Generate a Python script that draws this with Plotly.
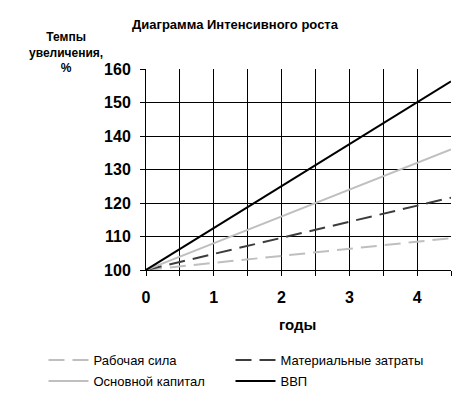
import plotly.graph_objects as go

years = [0, 1, 2, 3, 4, 4.5]
labor = [100, 102.1, 104.2, 106.3, 108.4, 109.5]
materials = [100, 104.8, 109.6, 114.4, 119.2, 121.6]
capital = [100, 108, 116, 124, 132, 136]
gdp = [100, 112.5, 125, 137.5, 150, 156.3]

names = ["Рабочая сила", "Материальные затраты", "Основной капитал", "ВВП"]
title_text = "Диаграмма Интенсивного роста"
ytitle = "Темпы<br>увеличения,<br>%"
xtitle = "годы"
xtick_vals = [0, 0.5, 1, 1.5, 2, 2.5, 3, 3.5, 4, 4.5]
xtick_text = ["0", "", "1", "", "2", "", "3", "", "4", ""]
ytick_vals = [100, 110, 120, 130, 140, 150, 160]

LIGHT = "#BFBFBF"
DARK = "#3C3C3C"
OFF = 8  # page body margin
W, H = 473 - OFF, 399 - OFF
L, T = 146 - OFF, 69 - OFF
PW, PH = 305, 201
R, B = W - L - PW, H - T - PH

fig = go.Figure()
fig.add_trace(go.Scatter(x=years, y=labor, mode="lines", name=names[0],
                         line=dict(color=LIGHT, width=2, dash="16px,8px"), legend="legend"))
fig.add_trace(go.Scatter(x=years, y=materials, mode="lines", name=names[1],
                         line=dict(color=DARK, width=2, dash="16px,8px"), legend="legend2"))
fig.add_trace(go.Scatter(x=years, y=capital, mode="lines", name=names[2],
                         line=dict(color=LIGHT, width=2), legend="legend3"))
fig.add_trace(go.Scatter(x=years, y=gdp, mode="lines", name=names[3],
                         line=dict(color="black", width=2), legend="legend4"))

font_main = "Liberation Sans, Arial, sans-serif"


def leg(px, py):
    px, py = px - OFF, py - OFF
    return dict(xref="container", yref="container", x=px / W, y=1 - py / H,
                xanchor="left", yanchor="middle", orientation="v",
                font=dict(family=font_main, size=13, color="black"),
                bgcolor="rgba(0,0,0,0)", itemwidth=40, borderwidth=0)


def px_x(p):
    return (p - OFF - L) / PW


def px_y(p):
    return (T + PH - (p - OFF)) / PH


fig.update_layout(
    width=W, height=H,
    margin=dict(l=L, r=R, t=T, b=B, autoexpand=False),
    paper_bgcolor="white", plot_bgcolor="white",
    font=dict(family=font_main, color="black"),
    showlegend=True,
    xaxis=dict(range=[0, 4.5], tickvals=xtick_vals,
               ticktext=["<b>%s</b>" % t if t else "" for t in xtick_text],
               showgrid=True, gridcolor="black", gridwidth=1,
               showline=True, linecolor="black", linewidth=1,
               ticks="outside", ticklen=5, tickcolor="black",
               ticklabelstandoff=8,
               tickfont=dict(size=16, family=font_main, color="black"),
               zeroline=False, fixedrange=True),
    yaxis=dict(range=[100, 160], tickvals=ytick_vals,
               ticktext=["<b>%d</b>" % v for v in ytick_vals],
               showgrid=True, gridcolor="black", gridwidth=1,
               showline=True, linecolor="black", linewidth=1,
               ticks="outside", ticklen=5, tickcolor="black",
               ticklabelstandoff=6,
               tickfont=dict(size=16, family=font_main, color="black"),
               zeroline=False, fixedrange=True),
    legend=leg(43.5, 360),
    legend2=leg(230.5, 360),
    legend3=leg(43.5, 381),
    legend4=leg(230.5, 381),
    annotations=[
        dict(text="<b>" + title_text + "</b>", xref="paper", yref="paper",
             x=px_x(235.5), y=px_y(24), xanchor="center", yanchor="middle",
             showarrow=False, font=dict(size=13, family=font_main, color="black")),
        dict(text="<b>" + ytitle + "</b>", xref="paper", yref="paper",
             x=px_x(66), y=px_y(52), xanchor="center", yanchor="middle",
             showarrow=False, align="center",
             font=dict(size=12, family=font_main, color="black")),
        dict(text="<b>" + xtitle + "</b>", xref="paper", yref="paper",
             x=px_x(297), y=px_y(324), xanchor="center", yanchor="middle",
             showarrow=False, font=dict(size=15, family=font_main, color="black")),
    ],
)

fig.write_html("out.html")
